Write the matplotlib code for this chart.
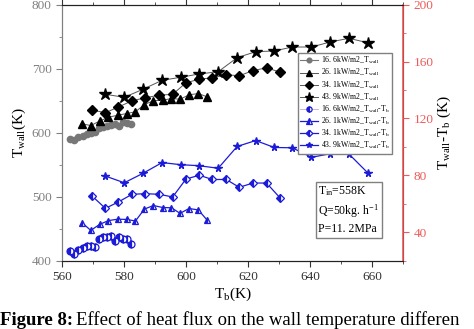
import numpy as np
import matplotlib
matplotlib.use('Agg')
from matplotlib import pyplot as plt
from matplotlib.ticker import MultipleLocator

plt.rcParams['font.family'] = ['Liberation Serif', 'DejaVu Serif']
plt.rcParams['mathtext.fontset'] = 'custom'
plt.rcParams['mathtext.rm'] = 'Liberation Serif'
plt.rcParams['mathtext.it'] = 'Liberation Serif:italic'

# --- data ---
# 16.6 kW/m2
tb_166 = [562.6, 564.0, 565.3, 566.7, 568.0, 569.4, 570.5, 572.0, 573.3, 574.6, 575.9, 577.2, 578.5, 579.8, 581.0, 582.3]
tw_166 = [590.2, 588.6, 592.8, 595.3, 597.5, 599.5, 601.1, 606.9, 608.9, 610.5, 612.0, 613.1, 610.9, 616.7, 615.6, 613.1]
dt_166 = [27.0, 24.5, 27.7, 29.1, 30.1, 30.1, 29.6, 35.2, 36.4, 36.6, 37.1, 33.8, 36.8, 35.4, 35.2, 31.5]

# 26.1 kW/m2
tb_261 = [566.4, 569.3, 572.2, 575.0, 578.0, 580.9, 583.7, 586.6, 589.5, 592.5, 595.3, 598.1, 601.0, 604.0, 606.8]
tw_261 = [613.9, 611.2, 618.3, 624.2, 627.3, 630.0, 632.7, 644.0, 650.0, 650.8, 653.4, 652.3, 659.2, 661.2, 656.1]
dt_261 = [46.8, 41.3, 45.6, 48.2, 49.2, 49.0, 47.9, 56.3, 58.8, 57.4, 57.2, 53.3, 56.7, 55.7, 48.6]

# 34.1 kW/m2
tb_341 = [569.7, 574.0, 578.2, 582.6, 586.9, 591.4, 595.7, 600.0, 604.3, 608.5, 613.0, 617.2, 621.6, 626.0, 630.3]
tw_341 = [635.5, 631.2, 640.2, 649.8, 654.7, 658.6, 660.0, 678.0, 683.6, 685.8, 690.5, 689.0, 697.0, 701.4, 694.8]
dt_341 = [65.5, 56.8, 61.3, 66.7, 67.1, 66.7, 64.8, 77.4, 80.1, 77.1, 77.1, 71.6, 74.6, 74.6, 64.3]

# 43.9 kW/m2
tb_439 = [574.0, 580.1, 586.1, 592.3, 598.3, 604.2, 610.4, 616.5, 622.5, 628.5, 634.3, 640.5, 646.5, 652.6, 658.6]
tw_439 = [660.0, 655.3, 667.8, 681.9, 686.6, 691.7, 695.3, 717.2, 726.6, 727.7, 733.9, 733.9, 741.7, 747.5, 740.6]
dt_439 = [79.5, 74.8, 81.4, 89.0, 87.5, 86.8, 85.0, 100.3, 104.5, 99.6, 99.4, 92.7, 95.2, 95.0, 81.9]

fluxes = ['16. 6', '26. 1', '34. 1', '43. 9']

red = '#ee5a5a'
grey = '#808080'
blue = '#1c1cd8'

fig = plt.figure(figsize=(4.74, 3.29), dpi=100)
ax1 = fig.add_axes([0.1308, 0.2076, 0.7192, 0.7781])
ax2 = ax1.twinx()

# wall temperature (left axis)
h1, = ax1.plot(tb_166, tw_166, '-o', color='#777777', mfc='#777777', mec='#777777', ms=4.5, lw=0.8)
h2, = ax1.plot(tb_261, tw_261, '-^', color='#555555', mfc='k', mec='k', ms=5.5, lw=0.7)
h3, = ax1.plot(tb_341, tw_341, '-D', color='#555555', mfc='k', mec='k', ms=5, lw=0.7)
h4, = ax1.plot(tb_439, tw_439, '-*', color='#555555', mfc='k', mec='k', ms=9, lw=0.7)

# wall - bulk temperature difference (right axis)
h5, = ax2.plot(tb_166, dt_166, '-o', color='#c9a6d6', mfc=blue, mec=blue, mfcalt='white',
               fillstyle='left', ms=5, lw=0.6, mew=0.9)
h6, = ax2.plot(tb_261, dt_261, '-^', color=blue, mfc=blue, mec=blue, mfcalt='white',
               fillstyle='left', ms=5, lw=0.9, mew=0.9)
h7, = ax2.plot(tb_341, dt_341, '-D', color=blue, mfc=blue, mec=blue, mfcalt='white',
               fillstyle='left', ms=4.5, lw=0.9, mew=0.9)
h8, = ax2.plot(tb_439, dt_439, '-*', color=blue, mfc=blue, mec=blue, ms=5.5, lw=0.9)

ax1.set_xlim(560, 670)
ax1.set_ylim(400, 800)
ax2.set_ylim(20, 200)

ax1.xaxis.set_major_locator(MultipleLocator(20))
ax1.xaxis.set_minor_locator(MultipleLocator(10))
ax1.yaxis.set_major_locator(MultipleLocator(100))
ax1.yaxis.set_minor_locator(MultipleLocator(50))
ax2.yaxis.set_major_locator(MultipleLocator(40))
ax2.yaxis.set_minor_locator(MultipleLocator(20))

ax1.tick_params(axis='x', which='both', direction='out', top=True, labelsize=9.5, colors='#333333')
ax1.tick_params(axis='x', which='major', length=4)
ax1.tick_params(axis='x', which='minor', length=2.5)
ax1.tick_params(axis='y', which='both', direction='out', labelsize=9.5, colors=grey)
ax1.tick_params(axis='y', which='major', length=4)
ax1.tick_params(axis='y', which='minor', length=2.5)
ax2.tick_params(axis='y', which='both', direction='out', labelsize=9.5, colors=red)
ax2.tick_params(axis='y', which='major', length=4)
ax2.tick_params(axis='y', which='minor', length=2.5)

ax1.spines['left'].set_color(grey)
ax2.spines['left'].set_color(grey)
ax2.spines['right'].set_color(red)
ax2.spines['right'].set_linewidth(1.2)
for sp in ['top', 'bottom']:
    ax1.spines[sp].set_color('#222222')
    ax2.spines[sp].set_color('#222222')

ax1.set_xlabel(r'T$_\mathrm{b}$(K)', fontsize=11, labelpad=2)
ax1.set_ylabel(r'T$_\mathrm{wall}$(K)', fontsize=11, labelpad=3)
ax2.set_ylabel(r'T$_\mathrm{wall}$-T$_\mathrm{b}$ (K)', fontsize=11, labelpad=2)

labels = [f + r'kW/m2_T$_\mathrm{wall}$' for f in fluxes] + \
         [f + r'kW/m2_T$_\mathrm{wall}$-T$_\mathrm{b}$' for f in fluxes]
leg = ax2.legend([h1, h2, h3, h4, h5, h6, h7, h8], labels, loc='upper left',
                 bbox_to_anchor=(0.692, 0.812), borderaxespad=0, fontsize=5.6,
                 fancybox=False, edgecolor=grey, framealpha=1, handlelength=2.3,
                 labelspacing=0.12, borderpad=0.3, handletextpad=0.35, markerscale=0.75)
leg.get_frame().set_linewidth(1.0)

ax2.text(0.752, 0.297, 'T$_\\mathrm{in}$=558K\nQ=50kg. h$^{-1}$\nP=11. 2MPa',
         transform=ax1.transAxes, fontsize=8.5, va='top', ha='left', linespacing=1.35,
         bbox=dict(boxstyle='square,pad=0.2', fc='white', ec=grey, lw=1.0))

# caption, as far as it shows in the source image
t1 = fig.text(0.0, 0.012, 'Figure 8:', fontsize=13.5, fontweight='bold', va='baseline')
fig.canvas.draw()
bb = t1.get_window_extent(renderer=fig.canvas.get_renderer())
fig.text(bb.x1 / fig.bbox.width + 0.006, 0.012,
         'Effect of heat flux on the wall temperature differen',
         fontsize=13.5, va='baseline')

fig.savefig('out.png', dpi=100)
